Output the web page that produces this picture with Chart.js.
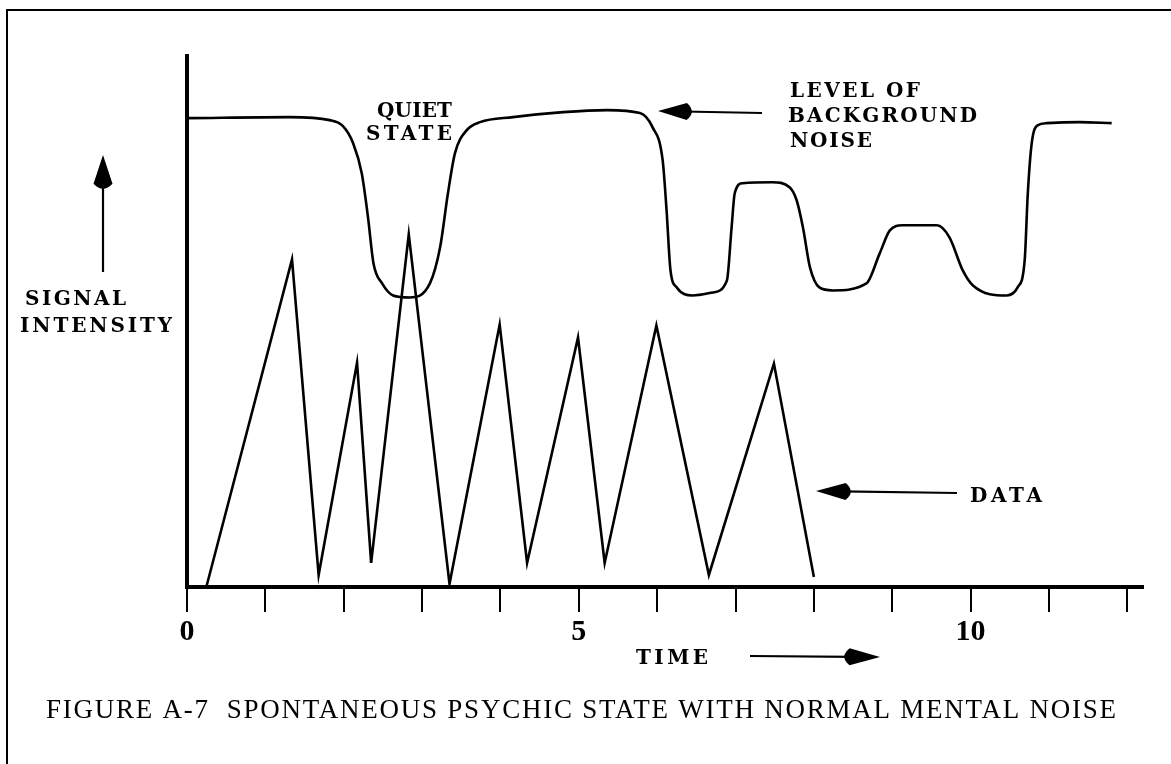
<!DOCTYPE html>
<html>
<head>
<meta charset="utf-8">
<script src="https://cdn.jsdelivr.net/npm/chart.js@4.4.1/dist/chart.umd.min.js"></script>
<style>
  html, body { margin: 0; padding: 0; background: #fff; }
  #wrap { position: relative; width: 1171px; height: 764px; overflow: hidden; }
  #frame { position: absolute; left: 6px; top: 9px; width: 1300px; height: 900px;
           border-top: 2px solid #000; border-left: 2px solid #000; }
  canvas { position: absolute; left: 0; top: 0; }
</style>
</head>
<body>
<div id="wrap">
  <div id="frame"></div>
  <canvas id="chart" width="1171" height="764"></canvas>
</div>
<script>
// background noise level (smooth curve)
const noiseX = [0.02, 1.31, 1.82, 1.99, 2.12, 2.23, 2.31, 2.38, 2.49, 2.63,
                2.84, 3.10, 3.23, 3.33, 3.42, 3.57, 3.74, 4.16, 4.80, 5.36,
                5.78, 5.94, 6.07, 6.12, 6.17, 6.25, 6.45, 6.71, 6.89, 6.95,
                6.99, 7.09, 7.47, 7.69, 7.78, 7.86, 7.95, 8.07, 8.24, 8.67,
                8.84, 8.97, 9.13, 9.57, 9.73, 9.90, 10.03, 10.46, 10.60, 10.69,
                10.73, 10.78, 10.86, 10.97, 11.39, 11.80];
const noiseY = [46.8, 46.9, 46.6, 46.0, 44.3, 41.3, 36.9, 32.3, 30.3, 29.1,
                28.9, 30.3, 33.9, 39.3, 43.3, 45.6, 46.4, 46.9, 47.4, 47.6,
                47.3, 45.9, 42.6, 37.6, 31.6, 29.9, 29.1, 29.4, 30.6, 35.9,
                39.3, 40.3, 40.4, 39.9, 38.6, 35.9, 31.9, 29.9, 29.6, 30.3,
                33.3, 35.6, 36.1, 36.1, 34.9, 31.6, 30.1, 29.1, 29.9, 32.6,
                39.3, 44.3, 46.1, 46.3, 46.4, 46.3];

// signal data (zig-zag)
const dataX = [0.25, 1.34, 1.68, 2.17, 2.35, 2.83, 3.35, 3.99, 4.34, 4.99, 5.33, 5.99, 6.66, 7.49, 8.00];
const dataY = [0.1, 32.7, 1.2, 22.4, 2.4, 35.2, 0.3, 26.2, 2.4, 24.9, 2.4, 26.1, 1.2, 22.3, 1.0];

const tickValues = [0, 1, 2, 3, 4, 5, 6, 7, 8, 9, 10, 11, 12];
const tickLabels = ["0", "", "", "", "", "5", "", "", "", "", "10", "", ""];

const caption = "FIGURE A-7  SPONTANEOUS PSYCHIC STATE WITH NORMAL MENTAL NOISE";

function spacedText(ctx, text, left, base, width, font) {
  ctx.font = font;
  ctx.letterSpacing = "0px";
  const w = ctx.measureText(text).width;
  const gap = text.length > 1 ? (width - w) / (text.length - 1) : 0;
  ctx.letterSpacing = gap + "px";
  ctx.textAlign = "left";
  ctx.textBaseline = "alphabetic";
  ctx.fillText(text, left, base);
  ctx.letterSpacing = "0px";
}

function arrow(ctx, x1, y1, x2, y2, headLen, halfW) {
  const ang = Math.atan2(y2 - y1, x2 - x1);
  const len = Math.hypot(x2 - x1, y2 - y1);
  ctx.save();
  ctx.translate(x2, y2);
  ctx.rotate(ang);
  ctx.lineWidth = 2.2;
  ctx.beginPath();
  ctx.moveTo(-len, 0);
  ctx.lineTo(-headLen * 0.7, 0);
  ctx.stroke();
  ctx.beginPath();
  ctx.moveTo(0, 0);
  ctx.lineTo(-headLen * 0.8, -halfW);
  ctx.quadraticCurveTo(-headLen * 1.08, 0, -headLen * 0.8, halfW);
  ctx.closePath();
  ctx.fill();
  ctx.restore();
}

const notes = {
  id: "notes",
  afterDraw(chart) {
    const ctx = chart.ctx;
    ctx.save();
    ctx.fillStyle = "#000";
    ctx.strokeStyle = "#000";
    const bold = 'bold 20px "DejaVu Serif"';
    spacedText(ctx, "QUIET", 377, 117, 75, bold);
    spacedText(ctx, "STATE", 366, 140, 86, bold);
    spacedText(ctx, "LEVEL OF", 790, 97, 130, bold);
    spacedText(ctx, "BACKGROUND", 788, 122, 189, bold);
    spacedText(ctx, "NOISE", 790, 147, 82, bold);
    spacedText(ctx, "SIGNAL", 25, 305, 101, bold);
    spacedText(ctx, "INTENSITY", 20, 332, 152, bold);
    spacedText(ctx, "TIME", 636, 664, 72, bold);
    spacedText(ctx, "DATA", 970, 502, 72, bold);
    spacedText(ctx, caption, 46, 718, 1070, '27px "Liberation Serif"');

    arrow(ctx, 103, 272, 103, 155, 36, 9.5);
    arrow(ctx, 762, 113, 658, 111, 36, 8.5);
    arrow(ctx, 957, 493, 816, 491, 37, 8.5);
    arrow(ctx, 750, 656, 880, 657, 38, 8.5);
    ctx.restore();
  }
};

new Chart(document.getElementById("chart").getContext("2d"), {
  type: "line",
  data: {
    datasets: [
      {
        label: "Background noise",
        data: noiseX.map((x, i) => ({ x: x, y: noiseY[i] })),
        borderColor: "#000",
        borderWidth: 2.6,
        pointRadius: 0,
        fill: false,
        cubicInterpolationMode: "monotone"
      },
      {
        label: "Data",
        data: dataX.map((x, i) => ({ x: x, y: dataY[i] })),
        borderColor: "#000",
        borderWidth: 2.6,
        pointRadius: 0,
        fill: false,
        tension: 0,
        borderJoinStyle: "miter"
      }
    ]
  },
  options: {
    responsive: false,
    animation: false,
    devicePixelRatio: 1,
    layout: { padding: { left: 179, right: 28, top: 56, bottom: 112 } },
    plugins: { legend: { display: false }, tooltip: { enabled: false } },
    scales: {
      x: {
        type: "linear",
        min: 0,
        max: 12.2,
        afterBuildTicks: (s) => { s.ticks = tickValues.map((v) => ({ value: v })); },
        ticks: {
          callback: (v) => tickLabels[tickValues.indexOf(v)] || "",
          font: { family: '"Liberation Serif"', size: 30, weight: "bold" },
          color: "#000",
          padding: 2,
          maxRotation: 0,
          autoSkip: false
        },
        grid: { drawOnChartArea: false, drawTicks: true, tickLength: 25, color: "#000", lineWidth: 2 },
        border: { display: true, color: "#000", width: 4 }
      },
      y: {
        min: 0,
        max: 53,
        ticks: { display: false },
        grid: { display: false },
        border: { display: true, color: "#000", width: 4 }
      }
    }
  },
  plugins: [notes]
});
</script>
</body>
</html>
